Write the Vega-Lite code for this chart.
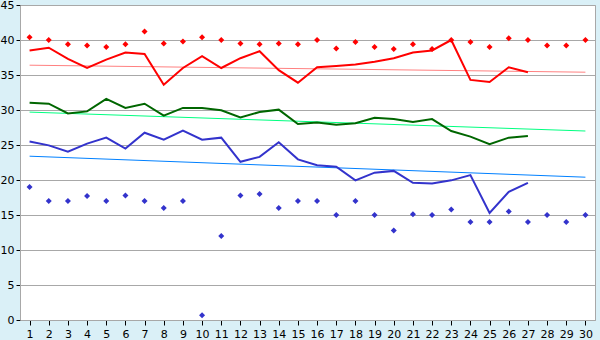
{
  "$schema": "https://vega.github.io/schema/vega-lite/v6.json",
  "width": 575,
  "height": 315,
  "autosize": {"type": "none"},
  "padding": {"left": 20, "top": 5, "right": 5, "bottom": 20},
  "background": "#DAF0F7",
  "config": {
    "view": {"fill": "#FFFFFF", "stroke": "#A8A8A8", "strokeWidth": 1},
    "axis": {"labelFont": "DejaVu Sans", "labelFontSize": 11, "labelColor": "#000000", "tickColor": "#000000", "domainColor": "#A8A8A8", "gridColor": "#A8A8A8", "title": null}
  },
  "datasets": {
    "trend": [
      {"day": 1, "series": "rt", "value": 36.4}, {"day": 30, "series": "rt", "value": 35.4},
      {"day": 1, "series": "gt", "value": 29.7}, {"day": 30, "series": "gt", "value": 27.0},
      {"day": 1, "series": "bt", "value": 23.4}, {"day": 30, "series": "bt", "value": 20.4}
    ],
    "lines": [
      {"day": 1, "series": "r", "value": 38.5}, {"day": 2, "series": "r", "value": 38.9}, {"day": 3, "series": "r", "value": 37.3}, {"day": 4, "series": "r", "value": 36.0}, {"day": 5, "series": "r", "value": 37.2}, {"day": 6, "series": "r", "value": 38.2}, {"day": 7, "series": "r", "value": 38.0}, {"day": 8, "series": "r", "value": 33.6}, {"day": 9, "series": "r", "value": 36.0}, {"day": 10, "series": "r", "value": 37.7}, {"day": 11, "series": "r", "value": 36.0}, {"day": 12, "series": "r", "value": 37.4}, {"day": 13, "series": "r", "value": 38.4}, {"day": 14, "series": "r", "value": 35.7}, {"day": 15, "series": "r", "value": 33.9}, {"day": 16, "series": "r", "value": 36.1}, {"day": 17, "series": "r", "value": 36.3}, {"day": 18, "series": "r", "value": 36.5}, {"day": 19, "series": "r", "value": 36.9}, {"day": 20, "series": "r", "value": 37.4}, {"day": 21, "series": "r", "value": 38.2}, {"day": 22, "series": "r", "value": 38.5}, {"day": 23, "series": "r", "value": 40.0}, {"day": 24, "series": "r", "value": 34.3}, {"day": 25, "series": "r", "value": 34.0}, {"day": 26, "series": "r", "value": 36.1}, {"day": 27, "series": "r", "value": 35.4},
      {"day": 1, "series": "g", "value": 31.05}, {"day": 2, "series": "g", "value": 30.9}, {"day": 3, "series": "g", "value": 29.5}, {"day": 4, "series": "g", "value": 29.8}, {"day": 5, "series": "g", "value": 31.6}, {"day": 6, "series": "g", "value": 30.3}, {"day": 7, "series": "g", "value": 30.9}, {"day": 8, "series": "g", "value": 29.2}, {"day": 9, "series": "g", "value": 30.3}, {"day": 10, "series": "g", "value": 30.3}, {"day": 11, "series": "g", "value": 29.95}, {"day": 12, "series": "g", "value": 28.95}, {"day": 13, "series": "g", "value": 29.7}, {"day": 14, "series": "g", "value": 30.05}, {"day": 15, "series": "g", "value": 28.0}, {"day": 16, "series": "g", "value": 28.2}, {"day": 17, "series": "g", "value": 27.9}, {"day": 18, "series": "g", "value": 28.1}, {"day": 19, "series": "g", "value": 28.9}, {"day": 20, "series": "g", "value": 28.7}, {"day": 21, "series": "g", "value": 28.3}, {"day": 22, "series": "g", "value": 28.7}, {"day": 23, "series": "g", "value": 27.0}, {"day": 24, "series": "g", "value": 26.2}, {"day": 25, "series": "g", "value": 25.1}, {"day": 26, "series": "g", "value": 26.05}, {"day": 27, "series": "g", "value": 26.3},
      {"day": 1, "series": "b", "value": 25.5}, {"day": 2, "series": "b", "value": 24.95}, {"day": 3, "series": "b", "value": 24.05}, {"day": 4, "series": "b", "value": 25.2}, {"day": 5, "series": "b", "value": 26.05}, {"day": 6, "series": "b", "value": 24.5}, {"day": 7, "series": "b", "value": 26.75}, {"day": 8, "series": "b", "value": 25.75}, {"day": 9, "series": "b", "value": 27.05}, {"day": 10, "series": "b", "value": 25.75}, {"day": 11, "series": "b", "value": 26.05}, {"day": 12, "series": "b", "value": 22.6}, {"day": 13, "series": "b", "value": 23.3}, {"day": 14, "series": "b", "value": 25.4}, {"day": 15, "series": "b", "value": 22.95}, {"day": 16, "series": "b", "value": 22.1}, {"day": 17, "series": "b", "value": 21.9}, {"day": 18, "series": "b", "value": 19.95}, {"day": 19, "series": "b", "value": 21.05}, {"day": 20, "series": "b", "value": 21.3}, {"day": 21, "series": "b", "value": 19.6}, {"day": 22, "series": "b", "value": 19.5}, {"day": 23, "series": "b", "value": 19.95}, {"day": 24, "series": "b", "value": 20.7}, {"day": 25, "series": "b", "value": 15.3}, {"day": 26, "series": "b", "value": 18.3}, {"day": 27, "series": "b", "value": 19.6}
    ],
    "pts": [
      {"day": 1, "series": "rp", "value": 40.4}, {"day": 2, "series": "rp", "value": 40}, {"day": 3, "series": "rp", "value": 39.4}, {"day": 4, "series": "rp", "value": 39.2}, {"day": 5, "series": "rp", "value": 39}, {"day": 6, "series": "rp", "value": 39.4}, {"day": 7, "series": "rp", "value": 41.2}, {"day": 8, "series": "rp", "value": 39.5}, {"day": 9, "series": "rp", "value": 39.8}, {"day": 10, "series": "rp", "value": 40.4}, {"day": 11, "series": "rp", "value": 40}, {"day": 12, "series": "rp", "value": 39.5}, {"day": 13, "series": "rp", "value": 39.4}, {"day": 14, "series": "rp", "value": 39.5}, {"day": 15, "series": "rp", "value": 39.4}, {"day": 16, "series": "rp", "value": 40}, {"day": 17, "series": "rp", "value": 38.8}, {"day": 18, "series": "rp", "value": 39.7}, {"day": 19, "series": "rp", "value": 39.0}, {"day": 20, "series": "rp", "value": 38.7}, {"day": 21, "series": "rp", "value": 39.4}, {"day": 22, "series": "rp", "value": 38.7}, {"day": 23, "series": "rp", "value": 40}, {"day": 24, "series": "rp", "value": 39.7}, {"day": 25, "series": "rp", "value": 39.0}, {"day": 26, "series": "rp", "value": 40.25}, {"day": 27, "series": "rp", "value": 40}, {"day": 28, "series": "rp", "value": 39.2}, {"day": 29, "series": "rp", "value": 39.2}, {"day": 30, "series": "rp", "value": 40},
      {"day": 1, "series": "bp", "value": 19}, {"day": 2, "series": "bp", "value": 17}, {"day": 3, "series": "bp", "value": 17}, {"day": 4, "series": "bp", "value": 17.7}, {"day": 5, "series": "bp", "value": 17}, {"day": 6, "series": "bp", "value": 17.8}, {"day": 7, "series": "bp", "value": 17}, {"day": 8, "series": "bp", "value": 16}, {"day": 9, "series": "bp", "value": 17}, {"day": 10, "series": "bp", "value": 0.67}, {"day": 11, "series": "bp", "value": 12}, {"day": 12, "series": "bp", "value": 17.8}, {"day": 13, "series": "bp", "value": 18}, {"day": 14, "series": "bp", "value": 16}, {"day": 15, "series": "bp", "value": 17}, {"day": 16, "series": "bp", "value": 17}, {"day": 17, "series": "bp", "value": 15}, {"day": 18, "series": "bp", "value": 17}, {"day": 19, "series": "bp", "value": 15}, {"day": 20, "series": "bp", "value": 12.8}, {"day": 21, "series": "bp", "value": 15.1}, {"day": 22, "series": "bp", "value": 15}, {"day": 23, "series": "bp", "value": 15.8}, {"day": 24, "series": "bp", "value": 14}, {"day": 25, "series": "bp", "value": 14}, {"day": 26, "series": "bp", "value": 15.5}, {"day": 27, "series": "bp", "value": 14}, {"day": 28, "series": "bp", "value": 15}, {"day": 29, "series": "bp", "value": 14}, {"day": 30, "series": "bp", "value": 15}
    ]
  },
  "encoding": {
    "x": {
      "field": "day", "type": "ordinal",
      "scale": {"type": "point", "padding": 0.5, "domain": [1,2,3,4,5,6,7,8,9,10,11,12,13,14,15,16,17,18,19,20,21,22,23,24,25,26,27,28,29,30]},
      "axis": {"labelAngle": 0, "grid": false, "tickSize": 5, "labelPadding": 3, "domain": true}
    },
    "y": {
      "field": "value", "type": "quantitative",
      "scale": {"domain": [0, 45], "nice": false, "zero": true},
      "axis": {"values": [0,5,10,15,20,25,30,35,40,45], "grid": true, "tickSize": 4, "labelPadding": 2, "domain": true}
    },
    "color": {
      "field": "series", "type": "nominal", "legend": null,
      "scale": {
        "domain": ["rt", "gt", "bt", "r", "g", "b", "rp", "bp"],
        "range": ["#FF8080", "#00FF80", "#0080FF", "#FF0000", "#006600", "#3333CC", "#FF0000", "#3333CC"]
      }
    }
  },
  "layer": [
    {"data": {"name": "trend"}, "mark": {"type": "line", "strokeWidth": 1}},
    {"data": {"name": "lines"}, "mark": {"type": "line", "strokeWidth": 2}},
    {"data": {"name": "pts"}, "mark": {"type": "point", "shape": "diamond", "filled": true, "size": 36, "opacity": 1}}
  ]
}
